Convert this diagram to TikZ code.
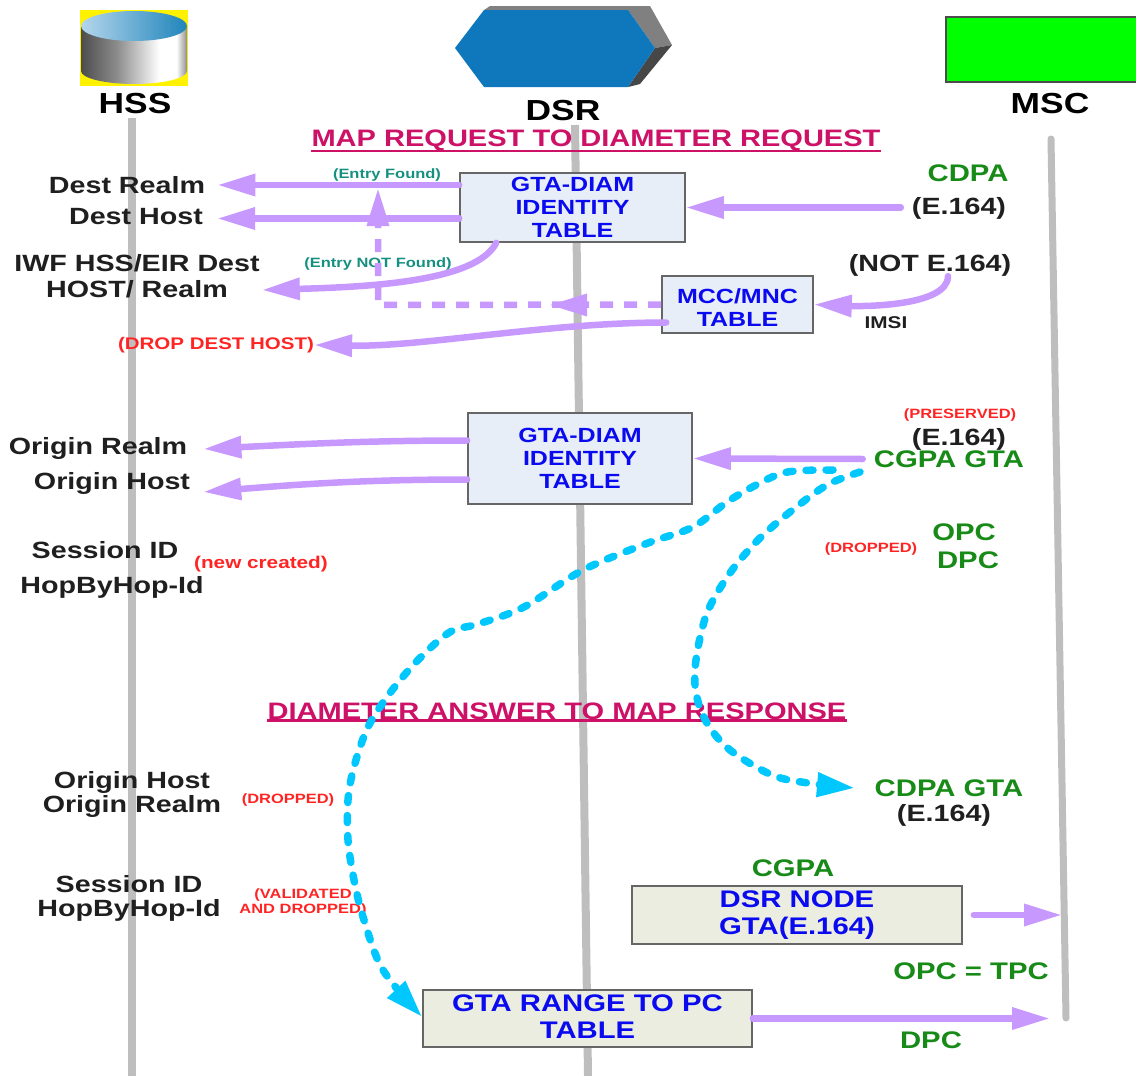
\documentclass[tikz,border=0pt]{standalone}
\usepackage{fontspec}
\setmainfont[FakeStretch=1.22]{Liberation Sans}
\usepackage{xcolor}
\usepackage{tikz}
\usetikzlibrary{arrows.meta,positioning,calc}
\definecolor{purplearr}{HTML}{C799FF}
\definecolor{cyanarr}{HTML}{00C8FF}
\definecolor{lifeline}{HTML}{BEBEBE}
\definecolor{tablefill}{HTML}{E8EEF8}
\definecolor{rangefill}{HTML}{EBEDE0}
\definecolor{boxline}{HTML}{666666}
\definecolor{tableblue}{HTML}{0A0AF0}
\definecolor{headmag}{HTML}{CC1166}
\definecolor{greentxt}{HTML}{178A17}
\definecolor{redtxt}{HTML}{FF2424}
\definecolor{tealtxt}{HTML}{159080}
\definecolor{dsrblue}{HTML}{0F77BC}
\definecolor{drumlight}{HTML}{B4D6EC}
\definecolor{drumdark}{HTML}{2085BB}
\pgfdeclarehorizontalshading{drumside}{100bp}{
  color(0bp)=(black!70); color(25bp)=(black!70); color(42bp)=(black!45);
  color(62bp)=(white); color(70bp)=(white); color(75bp)=(black!45); color(100bp)=(black!45)}
\newcommand{\fs}[2]{\fontsize{#1}{#2}\selectfont\bfseries}
\tikzset{
  lbl/.style={inner sep=0pt, align=center, text=black!88, font=\fs{23.5}{26}},
  bigname/.style={lbl, text=black, font=\fs{29}{32}},
  greenlbl/.style={lbl, text=greentxt, font=\fs{24}{26}},
  redlbl/.style={lbl, text=redtxt, font=\fs{13.5}{15}},
  teallbl/.style={lbl, text=tealtxt, font=\fs{13.5}{15}},
  headlbl/.style={lbl, text=headmag, font=\fs{23.8}{26}},
  headrule/.style={line width=2.4pt, draw=headmag},
  tablebox/.style={draw=boxline, line width=1.6pt, fill=tablefill, align=center,
                   text=tableblue, inner sep=0pt, font=\fs{20.5}{23}},
  rangebox/.style={tablebox, fill=rangefill, font=\fs{24}{27}},
  arrow/.style={-{Triangle[length=38pt,width=21pt]}, line width=6.5pt, draw=purplearr, line cap=round},
  dasharr/.style={arrow, line cap=butt, dash pattern=on 13pt off 11pt},
  cyandash/.style={-{Triangle[length=38pt,width=23pt]}, line width=7.5pt, draw=cyanarr,
                   line cap=round, dash pattern=on 7pt off 13pt},
  life/.style={line width=8pt, draw=lifeline}
}

\begin{document}
\begin{tikzpicture}[x=1pt, y=-1pt]
  \useasboundingbox (0,0) rectangle (1136,1076);

  \coordinate (hsstop) at (132,118);
  \coordinate (hssend) at (132,1076);
  \coordinate (dsrtop) at (575,125);
  \coordinate (dsrend) at (588,1076);
  \coordinate (msctop) at (1051,139);
  \coordinate (mscend) at (1066,1018);
  \draw[life] (hsstop) -- (hssend);
  \draw[life] (dsrtop) -- (dsrend);
  \draw[life, line cap=round, line width=7pt] (msctop) -- (mscend);

  % end symbols
  \fill[yellow] (80,10) rectangle (188,86);
  \shade[shading=drumside] (81,27) -- (81,71) arc[start angle=180, end angle=0, x radius=53, y radius=13] -- (187,27) -- cycle;
  \shade[left color=drumlight, right color=drumdark] (134,26) ellipse[x radius=53, y radius=15];
  \fill[black!50] (484,10) -- (490,6) -- (650,6) -- (672,45) -- (655,48) -- (628,10) -- cycle;
  \fill[black!72] (655,48) -- (672,45) -- (640,84) -- (628,87) -- cycle;
  \fill[dsrblue] (455,48) -- (484,10) -- (628,10) -- (655,48) -- (628,87) -- (484,87) -- cycle;
  \draw[draw=black!70, line width=1.4pt, fill=green] (946,17) rectangle (1140,82);

  \node[bigname] (hss) at (135,104) {HSS};
  \node[bigname] (dsr) at (563,111) {DSR};
  \node[bigname] (msc) at (1050,104) {MSC};
  \node[headlbl] (maphead) at (596,141) {MAP REQUEST TO DIAMETER REQUEST};
  \node[headlbl] (diamhead) at (557,711) {DIAMETER ANSWER TO MAP RESPONSE};
  \draw[headrule] ([yshift=1pt]maphead.south west) -- ([yshift=1pt]maphead.south east);
  \draw[headrule] ([yshift=-1pt]diamhead.south west) -- ([yshift=-1pt]diamhead.south east);

  \node[tablebox, minimum width=225pt, minimum height=69pt] (gtaone) at (572.5,207.5) {GTA-DIAM\\IDENTITY\\TABLE};
  \node[tablebox, minimum width=151pt, minimum height=57pt] (mccmnc) at (737.5,304.5) {\rule{0pt}{21pt}MCC/MNC\\TABLE};
  \node[tablebox, minimum width=224pt, minimum height=91pt] (gtatwo) at (580,458.5) {GTA-DIAM\\IDENTITY\\TABLE};
  \node[rangebox, minimum width=330pt, minimum height=58pt] (dsrnode) at (797,915) {DSR NODE\\GTA(E.164)};
  \node[rangebox, minimum width=329pt, minimum height=57pt, text depth=4pt] (gtarange) at (587.5,1018.5) {GTA RANGE TO PC\\TABLE};

  \node[lbl] (destrealm) at (127,185) {Dest Realm};
  \node[lbl] (desthost) at (136,217) {Dest Host};
  \node[lbl] (iwf) at (137,276) {IWF HSS/EIR Dest\\HOST/ Realm};
  \node[redlbl, font=\fs{16.8}{19}] (drophost) at (216,345) {(DROP DEST HOST)};
  \node[teallbl] (found) at (387,175) {(Entry Found)};
  \node[teallbl] (notfound) at (378,264) {(Entry NOT Found)};
  \node[greenlbl] (cdpa) at (968,173) {CDPA};
  \node[lbl] (cdpanum) at (959,208) {(E.164)};
  \node[lbl] (note164) at (930,265) {(NOT E.164)};
  \node[lbl, font=\fs{17}{19}] (imsi) at (886,323) {IMSI};

  \node[lbl] (orealm) at (98,448) {Origin Realm};
  \node[lbl] (ohost) at (112,483) {Origin Host};
  \node[lbl] (sessid) at (105,550) {Session ID};
  \node[lbl] (hopid) at (112,587) {HopByHop-Id};
  \node[redlbl, font=\fs{17}{19}] (newcr) at (261,564) {(new created)};
  \node[redlbl] (preserved) at (960,415) {(PRESERVED)};
  \node[lbl] (cgpanum) at (959,439) {(E.164)};
  \node[greenlbl] (cgpagta) at (949,459) {CGPA GTA};
  \node[greenlbl] (opc) at (964,532) {OPC};
  \node[greenlbl] (dpc) at (968,560) {DPC};
  \node[redlbl] (dropone) at (871,549) {(DROPPED)};

  \node[greenlbl] (cdpagta) at (949,788) {CDPA GTA};
  \node[lbl] (cdpagtanum) at (944,815) {(E.164)};
  \node[lbl] (ohosttwo) at (132,782) {Origin Host};
  \node[lbl] (orealmtwo) at (132,806) {Origin Realm};
  \node[redlbl] (droptwo) at (288,800) {(DROPPED)};
  \node[lbl] (sessidtwo) at (129,884) {Session ID};
  \node[lbl] (hopidtwo) at (129,910) {HopByHop-Id};
  \node[redlbl] (validated) at (303,903) {(VALIDATED\\AND DROPPED)};
  \node[greenlbl] (cgpa) at (793,868) {CGPA};
  \node[greenlbl] (tpc) at (971,971) {OPC = TPC};
  \node[greenlbl] (dpctwo) at (931,1040) {DPC};

  \coordinate (corner) at (378,305);
  \coordinate (uptip) at (378,188);
  \coordinate (midtail) at (586,305);
  \coordinate (midtip) at (549,305);
  \coordinate (cgpastart) at (833,470);
  \coordinate (cgpastarttwo) at (860,472);

  \draw[arrow] (gtaone.west |- destrealm) -- ([xshift=12pt]destrealm.east);
  \draw[arrow] ([yshift=-11pt]gtaone.west) -- ([xshift=14pt,yshift=-11pt]gtaone.west -| desthost.east);
  \draw[arrow] (gtaone.south west) ++(37,0) .. controls +(-20,40) and +(100,-3) .. ([xshift=2pt,yshift=-14pt]iwf.east);
  \draw[dasharr] (mccmnc.west) -- (corner) -- (uptip);
  \draw[arrow, line cap=butt] (midtail) -- (midtip);
  \draw[arrow] ([xshift=5pt,yshift=-18pt]mccmnc.west) .. controls +(-120,0) and +(110,2) .. (drophost.east);
  \draw[arrow] ([xshift=-11pt]cdpanum.west |- gtaone) -- (gtaone.east);
  \draw[arrow] (note164.south -| 948,0) .. controls +(0,30) and +(50,2) .. (mccmnc.east);
  \draw[arrow] ([yshift=18pt]gtatwo.west) .. controls +(-100,0) and +(100,-5) .. ([xshift=16pt,yshift=-1pt]orealm.east);
  \draw[arrow] ([yshift=-21pt]gtatwo.west) .. controls +(-100,0) and +(100,-8) .. ([xshift=13pt,yshift=-9pt]ohost.east);
  \draw[arrow] ([xshift=-11pt]cgpagta.west) -- (gtatwo.east);
  \draw[arrow] ([xshift=11pt]dsrnode.east) -- ([xshift=-4pt]mscend |- dsrnode);
  \draw[arrow] (gtarange.east) -- ([xshift=-16pt]mscend |- gtarange);

  \draw[cyandash] plot[smooth, tension=.55] coordinates {(cgpastart) (795,471) (772,477) (730,500) (693,527) (648,543) (583,570) (524,607) (478,624) (450,632) (418,660) (390,693) (368,727) (354,767) (348,800) (348,840) (354,880) (364,920) (383,970) (gtarange.west |- 0,1017)};
  \draw[cyandash] plot[smooth, tension=.55] coordinates {(cgpastarttwo) (827,485) (790,512) (758,540) (730,573) (707,613) (696,660) (696,693) (707,723) (730,750) (772,775) (808,783) (855,788)};
\end{tikzpicture}
\end{document}
